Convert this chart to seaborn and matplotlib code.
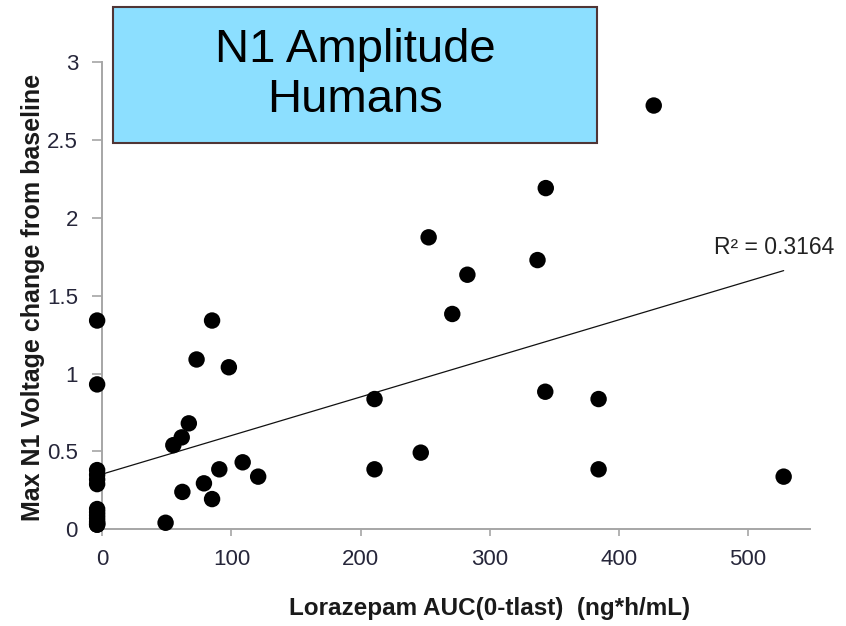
import matplotlib
matplotlib.use("Agg")
import numpy as np
import pandas as pd
import matplotlib.pyplot as plt
import seaborn as sns
from matplotlib.patches import Rectangle

# ---- data ----
auc = [-4, -4, -4, -4, -4, -4, -4, -4, -4, -4, -4, -4, -4, -4,
       85, 73, 98, 67, 61.5, 55, 108.7, 90.6, 120.7, 78.7, 62, 85, 49,
       252.7, 282.7, 337, 271, 210.8, 343, 384.3, 210.8, 246.6, 384.3, 527.6, 427, 343.4]
n1_change = [1.34, 0.93, 0.38, 0.35, 0.32, 0.29, 0.13, 0.11, 0.09, 0.07, 0.05, 0.04, 0.03, 0.03,
             1.34, 1.09, 1.04, 0.68, 0.59, 0.54, 0.43, 0.385, 0.338, 0.295, 0.24, 0.194, 0.042,
             1.874, 1.634, 1.728, 1.382, 0.836, 0.883, 0.836, 0.385, 0.492, 0.385, 0.338, 2.72, 2.19]
x_ticks = [0, 100, 200, 300, 400, 500]
y_ticks = [0, 0.5, 1, 1.5, 2, 2.5, 3]
y_tick_labels = ["0", "0.5", "1", "1.5", "2", "2.5", "3"]
title_text = "N1 Amplitude\nHumans"
r2_text = "R² = 0.3164"
x_label = "Lorazepam AUC(0-tlast)  (ng*h/mL)"
y_label = "Max N1 Voltage change from baseline"

df = pd.DataFrame({"auc": auc, "n1": n1_change})

sns.set_theme(style="white")
plt.rcParams['font.family'] = ['Liberation Sans', 'DejaVu Sans']

W, H = 846, 626
fig = plt.figure(figsize=(W / 100, H / 100), dpi=100)
fig.patch.set_facecolor("white")
ax = fig.add_axes([102.3 / W, 1 - 529.3 / H, (810 - 102.3) / W, (529.3 - 61.9) / H])
ax.set_facecolor("white")

sns.regplot(data=df, x="auc", y="n1", scatter=False, ci=None, truncate=True,
            color="black", line_kws=dict(lw=0.9, color="#111111"), ax=ax)
sns.scatterplot(data=df, x="auc", y="n1", s=140, color="black", edgecolor="none",
                ax=ax, clip_on=False, zorder=3, legend=False)

ax.set_xlim(0, 548)
ax.set_ylim(0, 3)
ax.set_xticks(x_ticks)
ax.set_xticklabels([str(t) for t in x_ticks])
ax.set_yticks(y_ticks)
ax.set_yticklabels(y_tick_labels)
ax.set_xlabel("")
ax.set_ylabel("")

sns.despine(ax=ax)
for s in ["left", "bottom"]:
    ax.spines[s].set_color("#a6a6a6")
    ax.spines[s].set_linewidth(1.4)

ax.tick_params(axis="y", left=True, length=7, width=1.2, color="#a6a6a6", pad=10.5,
               labelsize=16, labelcolor="#26263a", direction="out")
ax.tick_params(axis="x", bottom=True, length=5, width=1.2, color="#a6a6a6", pad=9.5,
               labelsize=16, labelcolor="#26263a", direction="out")

fig.text(490 / W, 1 - 609 / H, x_label, ha="center", va="center",
         fontsize=17.5, fontweight="bold", color="#1a1a1a")
fig.text(33 / W, 1 - 297.5 / H, y_label, rotation=90, ha="center", va="center",
         fontsize=18, fontweight="bold", color="#1a1a1a")

fig.add_artist(Rectangle((113 / W, 1 - 142.7 / H), 484 / W, 135.7 / H,
                         transform=fig.transFigure, facecolor="#8cdfff",
                         edgecolor="#503535", lw=1.5))
fig.text(355 / W, 1 - 75 / H, title_text, ha="center", va="center",
         fontsize=34, linespacing=1.2, color="black")

fig.text(714 / W, 1 - 254 / H, r2_text, ha="left", va="baseline",
         fontsize=16.5, color="#222222")

fig.savefig("out.png", dpi=100)
